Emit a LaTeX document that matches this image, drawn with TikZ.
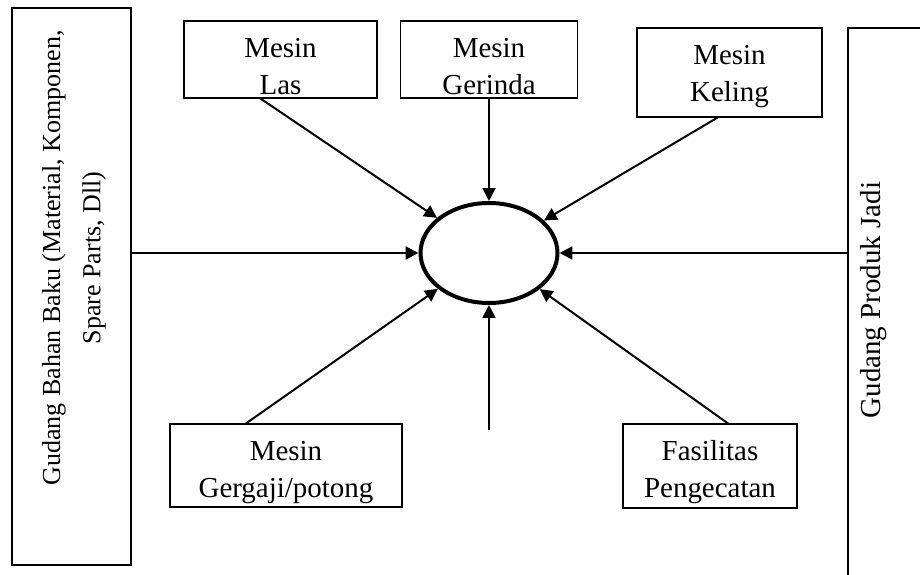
\documentclass[tikz,border=0pt]{standalone}
\usepackage{fontspec}
\setmainfont{Liberation Serif}
\usepackage{tikz}
\usetikzlibrary{shapes}
\usetikzlibrary{arrows.meta}
\usetikzlibrary{positioning}
\usetikzlibrary{calc}
\tikzstyle{gudang}=[rectangle,draw,line width=0.8pt,inner sep=0pt]
\tikzstyle{mesin}=[
        rectangle,
        draw,
        line width=0.8pt,
        align=center,
        inner sep=0pt,
        text height=1.84cm,
        font=\fontsize{20.6}{26.7}\selectfont
]
\tikzstyle{proses}=[ellipse,draw,line width=0.1cm,minimum width=3.425cm,minimum height=2.5cm]
\tikzstyle{alir}=[->,>={Triangle[length=0.32cm,width=0.32cm]},line width=0.05cm]

\begin{document}
\begin{tikzpicture}
\useasboundingbox (0,0) rectangle (23,-14.375);
\node[gudang,minimum width=2.975cm,minimum height=13.925cm] (gbb) at (1.7875,-7.1625) {};
\node[rotate=90,align=center,font=\fontsize{18.5}{28.5}\selectfont] (gbbteks) at (1.85,-6.45) {Gudang Bahan Baku (Material, Komponen,\\ Spare Parts, Dll)};
\node[gudang,minimum width=2.8cm,minimum height=14.3cm] (gpj) at (22.6,-7.85) {};
\node[rotate=90,font=\fontsize{20.6}{26.7}\selectfont] (gpjteks) at (21.85,-7.5) {Gudang Produk Jadi};
\node[proses] (el) at (12.225,-6.325) {};
\node[mesin,minimum width=4.825cm,text depth=0.085cm] (las) at (7.0125,-1.4875) {Mesin\\Las};
\node[mesin,minimum width=4.425cm,text depth=0.085cm] (ger) at (12.225,-1.4875) {Mesin\\Gerinda};
\node[mesin,minimum width=4.625cm,text depth=0.385cm] (kel) at (18.2375,-1.8125) {Mesin\\Keling};
\node[mesin,minimum width=5.8cm,text depth=0.235cm] (ggj) at (7.15,-11.6375) {Mesin\\Gergaji/potong};
\node[mesin,minimum width=4.35cm,text depth=0.26cm] (cat) at (17.75,-11.65) {Fasilitas\\Pengecatan};
\coordinate (bawah) at (12.225,-10.75);
%panah ke proses
\draw[alir] ([xshift=-0.5cm]las.south) -- (el);
\draw[alir] (ger) -- (el);
\draw[alir] ([xshift=-0.3cm]kel.south) -- (el);
\draw[alir] (gbb.east |- el) -- (el.west);
\draw[alir] (gpj.west |- el) -- (el.east);
\draw[alir] ([xshift=-1cm]ggj.north) -- (el);
\draw[alir] ([xshift=0.45cm]cat.north) -- (el);
\draw[alir] (bawah) -- (el);
\end{tikzpicture}
\end{document}
